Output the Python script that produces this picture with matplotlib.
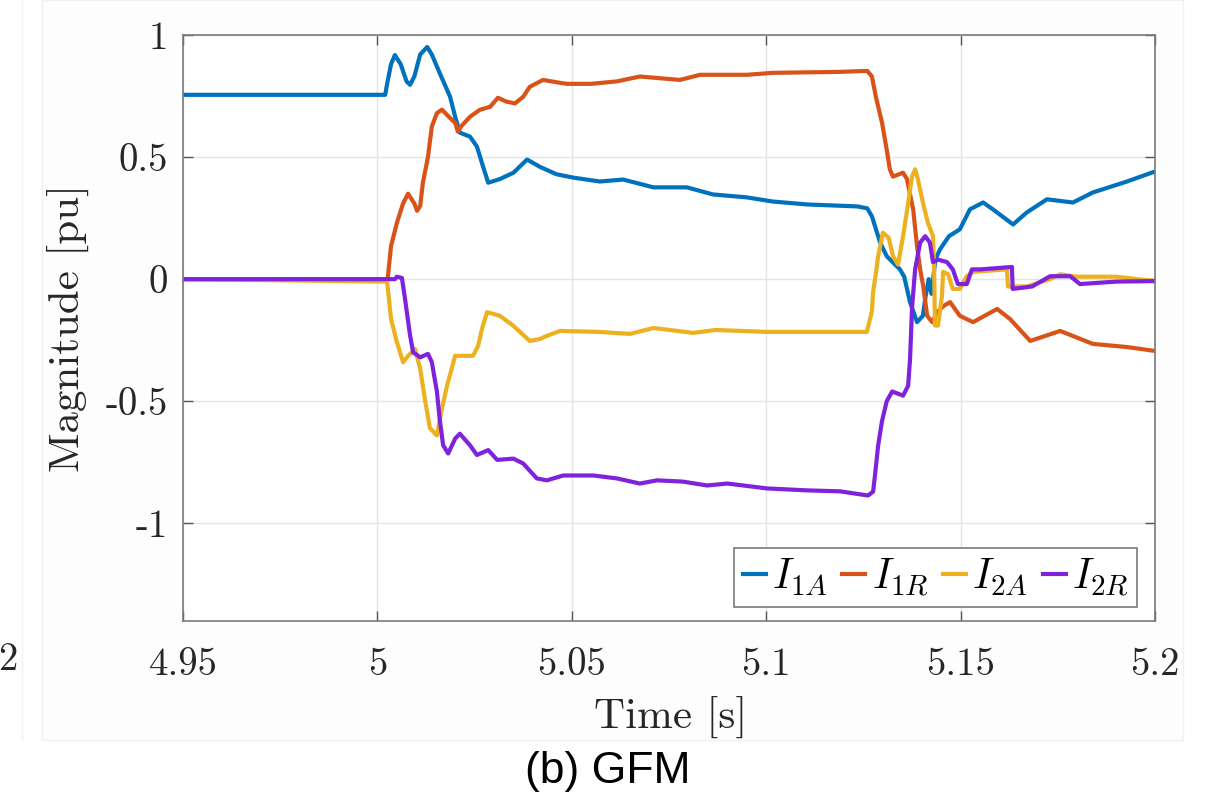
import matplotlib
matplotlib.use("Agg")
import matplotlib.pyplot as plt
from matplotlib.patches import Rectangle
from matplotlib.lines import Line2D

plt.rcParams['mathtext.fontset'] = 'cm'
plt.rcParams['axes.unicode_minus'] = False

# ---------------- data ----------------
t_i1a = [4.95, 5.002, 5.0025, 5.0035, 5.0045, 5.006, 5.0075, 5.0084, 5.0095, 5.011,
         5.0128, 5.014, 5.016, 5.0187, 5.02, 5.0212, 5.0238, 5.0256, 5.0272, 5.0285,
         5.0315, 5.035, 5.0385, 5.0418, 5.046, 5.0503, 5.0572, 5.0632, 5.071, 5.0796,
         5.0863, 5.095, 5.1017, 5.1105, 5.1234, 5.126, 5.1272, 5.1293, 5.131, 5.1344,
         5.1355, 5.137, 5.1388, 5.1403, 5.141, 5.1418, 5.1425, 5.1435, 5.1447, 5.147,
         5.1498, 5.1524, 5.1558, 5.1583, 5.1635, 5.167, 5.1722, 5.1789, 5.184, 5.1928, 5.2]
v_i1a = [0.755, 0.755, 0.80, 0.88, 0.918, 0.88, 0.81, 0.796, 0.83, 0.92,
         0.951, 0.92, 0.845, 0.747, 0.665, 0.60, 0.584, 0.543, 0.46, 0.395,
         0.41, 0.436, 0.49, 0.46, 0.43, 0.416, 0.40, 0.408, 0.376, 0.376,
         0.347, 0.335, 0.318, 0.306, 0.298, 0.29, 0.257, 0.15, 0.094, 0.04,
         0.01, -0.095, -0.176, -0.15, -0.07, 0.0, -0.06, 0.08, 0.122, 0.176,
         0.204, 0.286, 0.314, 0.286, 0.224, 0.273, 0.327, 0.314, 0.355, 0.40, 0.441]

t_i1r = [4.95, 5.0025, 5.0027, 5.0035, 5.005, 5.0066, 5.0079, 5.0095, 5.0102, 5.011,
         5.0117, 5.013, 5.014, 5.0153, 5.0166, 5.0187, 5.02, 5.0207, 5.0215, 5.0238,
         5.0264, 5.029, 5.031, 5.0332, 5.0354, 5.0375, 5.0392, 5.0426, 5.047, 5.0488,
         5.055, 5.0616, 5.0675, 5.0778, 5.083, 5.095, 5.1017, 5.119, 5.126, 5.1272,
         5.1282, 5.1298, 5.131, 5.1318, 5.1326, 5.1352, 5.1362, 5.1378, 5.1388, 5.1396,
         5.1404, 5.1414, 5.1427, 5.144, 5.1456, 5.1473, 5.1498, 5.1532, 5.1594, 5.1627,
         5.1679, 5.1756, 5.184, 5.1928, 5.2]
v_i1r = [0.0, 0.0, 0.01, 0.135, 0.23, 0.31, 0.35, 0.31, 0.28, 0.30,
         0.395, 0.50, 0.625, 0.68, 0.694, 0.66, 0.64, 0.604, 0.625, 0.665,
         0.694, 0.706, 0.743, 0.727, 0.72, 0.747, 0.788, 0.816, 0.804, 0.80,
         0.80, 0.81, 0.83, 0.816, 0.837, 0.837, 0.845, 0.849, 0.853, 0.83,
         0.747, 0.64, 0.53, 0.45, 0.42, 0.436, 0.41, 0.286, 0.135, 0.04,
         -0.03, -0.15, -0.176, -0.135, -0.11, -0.094, -0.15, -0.176, -0.122, -0.163,
         -0.253, -0.212, -0.265, -0.278, -0.294]

t_i2a = [4.95, 5.0025, 5.0035, 5.005, 5.0066, 5.0079, 5.0097, 5.011, 5.0122, 5.0135,
         5.0153, 5.0166, 5.0179, 5.02, 5.0246, 5.0259, 5.0269, 5.0282, 5.0315, 5.0349,
         5.0392, 5.0418, 5.0436, 5.047, 5.057, 5.065, 5.071, 5.0812, 5.087, 5.1,
         5.1259, 5.1272, 5.1275, 5.128, 5.1288, 5.1300, 5.1315, 5.1326, 5.1339, 5.1352,
         5.1365, 5.1375, 5.1383, 5.139, 5.1403, 5.1416, 5.1429, 5.1432, 5.1434, 5.1442,
         5.1452, 5.1455, 5.1468, 5.148, 5.1498, 5.1516, 5.1532, 5.1619, 5.1622, 5.167,
         5.173, 5.1756, 5.18, 5.19, 5.2]
v_i2a = [0.0, -0.01, -0.163, -0.257, -0.34, -0.314, -0.286, -0.367, -0.49, -0.61,
         -0.64, -0.53, -0.437, -0.314, -0.314, -0.273, -0.204, -0.135, -0.15, -0.19,
         -0.253, -0.245, -0.232, -0.212, -0.216, -0.224, -0.20, -0.22, -0.208, -0.216,
         -0.216, -0.13, -0.05, 0.0, 0.094, 0.19, 0.17, 0.094, 0.06, 0.176,
         0.31, 0.42, 0.45, 0.41, 0.314, 0.23, 0.176, 0.04, -0.19, -0.19,
         -0.07, 0.03, 0.02, -0.04, -0.04, 0.012, 0.03, 0.04, -0.03, -0.03,
         0.0, 0.02, 0.01, 0.01, -0.008]

t_i2r = [4.95, 5.0045, 5.005, 5.0063, 5.0071, 5.0084, 5.0092, 5.011, 5.013, 5.014,
         5.0153, 5.016, 5.0169, 5.0182, 5.02, 5.0212, 5.0238, 5.0256, 5.0285, 5.0308,
         5.035, 5.0375, 5.041, 5.0436, 5.0478, 5.0555, 5.0616, 5.0675, 5.0719, 5.0785,
         5.0848, 5.09, 5.1002, 5.1105, 5.119, 5.1262, 5.1275, 5.128, 5.1288, 5.1298,
         5.131, 5.1324, 5.1352, 5.1365, 5.137, 5.1375, 5.1383, 5.1396, 5.1409, 5.1421,
         5.1429, 5.1442, 5.1465, 5.148, 5.1493, 5.1516, 5.1529, 5.155, 5.1632, 5.1634,
         5.1684, 5.173, 5.1782, 5.1807, 5.19, 5.2]
v_i2r = [0.0, 0.0, 0.01, 0.005, -0.08, -0.23, -0.30, -0.32, -0.306, -0.34,
         -0.46, -0.57, -0.68, -0.714, -0.653, -0.633, -0.68, -0.72, -0.70, -0.74,
         -0.735, -0.755, -0.816, -0.824, -0.804, -0.804, -0.816, -0.837, -0.824, -0.829,
         -0.845, -0.837, -0.857, -0.865, -0.869, -0.886, -0.87, -0.80, -0.68, -0.58,
         -0.50, -0.46, -0.477, -0.437, -0.327, -0.12, 0.04, 0.15, 0.176, 0.15,
         0.07, 0.08, 0.07, 0.04, -0.02, -0.02, 0.04, 0.04, 0.05, -0.04,
         -0.03, 0.012, 0.012, -0.02, -0.01, -0.008]

labels = [r'$I_{1A}$', r'$I_{1R}$', r'$I_{2A}$', r'$I_{2R}$']
colors = ['#0072BD', '#D95319', '#EDB120', '#7E22DD']
xticks = [4.95, 5.0, 5.05, 5.1, 5.15, 5.2]
xticklabels = ['4.95', '5', '5.05', '5.1', '5.15', '5.2']
yticks = [-1, -0.5, 0, 0.5, 1]
yticklabels = ['-1', '-0.5', '0', '0.5', '1']

# ---------------- figure ----------------
W, H = 1205, 809
fig = plt.figure(figsize=(W / 100, H / 100), dpi=100)

# faint background panel of the screenshot
fig.patches.append(Rectangle((42 / W, 1 - 740 / H), (1183 - 42) / W, 740 / H,
                             transform=fig.transFigure, facecolor='#fdfdfd',
                             edgecolor='#f1f1f1', lw=1, zorder=-10))
fig.add_artist(Line2D([22 / W, 22 / W], [1 - 740 / H, 1], transform=fig.transFigure,
                      color='#f3f3f3', lw=1, zorder=-10))

ax = fig.add_axes([183 / W, 1 - 621 / H, (1155 - 183) / W, (621 - 35) / H])

series = [(t_i1a, v_i1a), (t_i1r, v_i1r), (t_i2a, v_i2a), (t_i2r, v_i2r)]
for (tt, vv), c, lab in zip(series, colors, labels):
    ax.plot(tt, vv, color=c, lw=3.0, label=lab, solid_joinstyle='round')

ax.set_xlim(4.95, 5.2)
ax.set_ylim(-1.4, 1.0)
ax.set_xticks(xticks)
ax.set_xticklabels(xticklabels)
ax.set_yticks(yticks)
ax.set_yticklabels(yticklabels)

for lbl in ax.get_xticklabels() + ax.get_yticklabels():
    lbl.set_fontfamily('cmr10')
    lbl.set_fontsize(28)
    lbl.set_color('#262626')

ax.tick_params(direction='in', length=7, width=1, color='#555555',
               top=True, right=True, pad=11)
ax.tick_params(axis='x', pad=19)
ax.grid(True, color='#e4e4e4', lw=1)
ax.set_axisbelow(True)
for sp in ax.spines.values():
    sp.set_color('#7a7a7a')
    sp.set_linewidth(1.2)

ax.set_xlabel('Time [s]', fontfamily='cmr10', fontsize=31, color='#262626')
ax.set_ylabel('Magnitude [pu]', fontfamily='cmr10', fontsize=31, color='#262626')
ax.xaxis.set_label_coords(0.502, -0.128)
ax.yaxis.set_label_coords(-0.097, 0.5)

leg = ax.legend(loc='lower right', bbox_to_anchor=(1 - 18 / 972, 14 / 586), ncol=4,
                fontsize=30, handlelength=0.55, handletextpad=0.15, columnspacing=0.35,
                borderpad=0.2, borderaxespad=0.0, frameon=True, fancybox=False,
                framealpha=1)
leg.get_frame().set_edgecolor('#7a7a7a')
leg.get_frame().set_linewidth(1.2)

# clipped label from neighbouring subplot
fig.text(8 / W, 1 - 660 / H, '2', fontfamily='cmr10', fontsize=28,
         ha='center', va='center', color='#262626')

# caption
fig.text(608 / W, 1 - 771 / H, '(b) GFM', fontfamily='Liberation Sans', fontsize=32,
         ha='center', va='center', color='black')

fig.savefig('out.png', dpi=100)
